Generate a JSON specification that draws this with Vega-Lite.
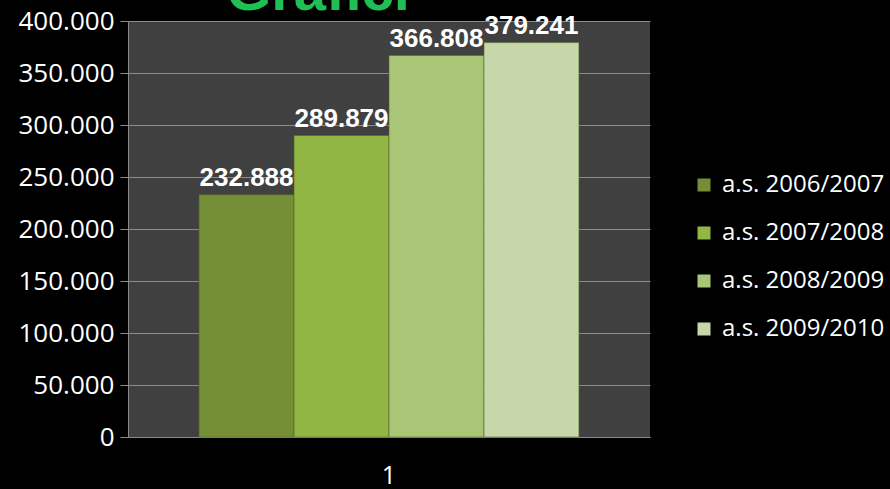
{
  "$schema": "https://vega.github.io/schema/vega-lite/v6.json",
  "autosize": "none",
  "width": 522,
  "height": 416,
  "padding": {"left": 128, "top": 21, "right": 240, "bottom": 52},
  "background": "black",
  "title": {
    "text": "Grafici",
    "color": "#1fbf55",
    "font": "Liberation Sans",
    "fontWeight": "bold",
    "fontSize": 58,
    "anchor": "middle",
    "baseline": "alphabetic",
    "offset": -60,
    "dx": -71
  },
  "data": {
    "values": [
      {"cat": "1", "series": "a.s. 2006/2007", "value": 232888},
      {"cat": "1", "series": "a.s. 2007/2008", "value": 289879},
      {"cat": "1", "series": "a.s. 2008/2009", "value": 366808},
      {"cat": "1", "series": "a.s. 2009/2010", "value": 379241}
    ]
  },
  "encoding": {
    "x": {
      "field": "cat", "type": "nominal",
      "scale": {"paddingInner": 0, "paddingOuter": 0.187},
      "axis": {
        "title": null, "labelAngle": 0, "ticks": false, "domain": true,
        "domainColor": "#8a8a8a", "labelColor": "white", "labelFont": "Open Sans",
        "labelFontSize": 25, "labelPadding": 26
      }
    },
    "xOffset": {"field": "series", "type": "nominal", "scale": {"paddingInner": 0, "paddingOuter": 0}},
    "y": {
      "field": "value", "type": "quantitative",
      "scale": {"domain": [0, 400000], "nice": false},
      "axis": {
        "title": null,
        "values": [0, 50000, 100000, 150000, 200000, 250000, 300000, 350000, 400000],
        "format": ",.0f",
        "grid": true, "gridColor": "#8c8c8c", "gridWidth": 1,
        "domainColor": "#8a8a8a", "tickColor": "#8a8a8a", "tickSize": 8,
        "labelColor": "white", "labelFont": "Open Sans", "labelFontSize": 26,
        "labelPadding": 6
      }
    }
  },
  "layer": [
    {
      "mark": {"type": "bar", "stroke": "#55662a", "strokeWidth": 1, "strokeOpacity": 0.6},
      "encoding": {
        "color": {
          "field": "series", "type": "nominal",
          "scale": {"range": ["#748f35", "#91b644", "#a8c676", "#c6d8aa"]},
          "legend": {
            "title": null, "orient": "none", "legendX": 564, "legendY": 152,
            "symbolType": "square", "symbolSize": 169, "symbolStrokeWidth": 0,
            "labelColor": "white", "labelFont": "Open Sans", "labelFontSize": 24,
            "labelOffset": 6, "labelLimit": 0, "rowPadding": 24, "padding": 0
          }
        }
      }
    },
    {
      "mark": {
        "type": "text", "color": "white", "font": "Liberation Sans", "fontWeight": "bold",
        "fontSize": 26, "baseline": "alphabetic", "dy": -9
      },
      "encoding": {
        "text": {"field": "value", "type": "quantitative", "format": ",.0f"}
      }
    }
  ],
  "config": {
    "locale": {
      "number": {"decimal": ",", "thousands": ".", "grouping": [3], "currency": ["€", ""]}
    },
    "view": {"fill": "#404040", "stroke": null}
  }
}
